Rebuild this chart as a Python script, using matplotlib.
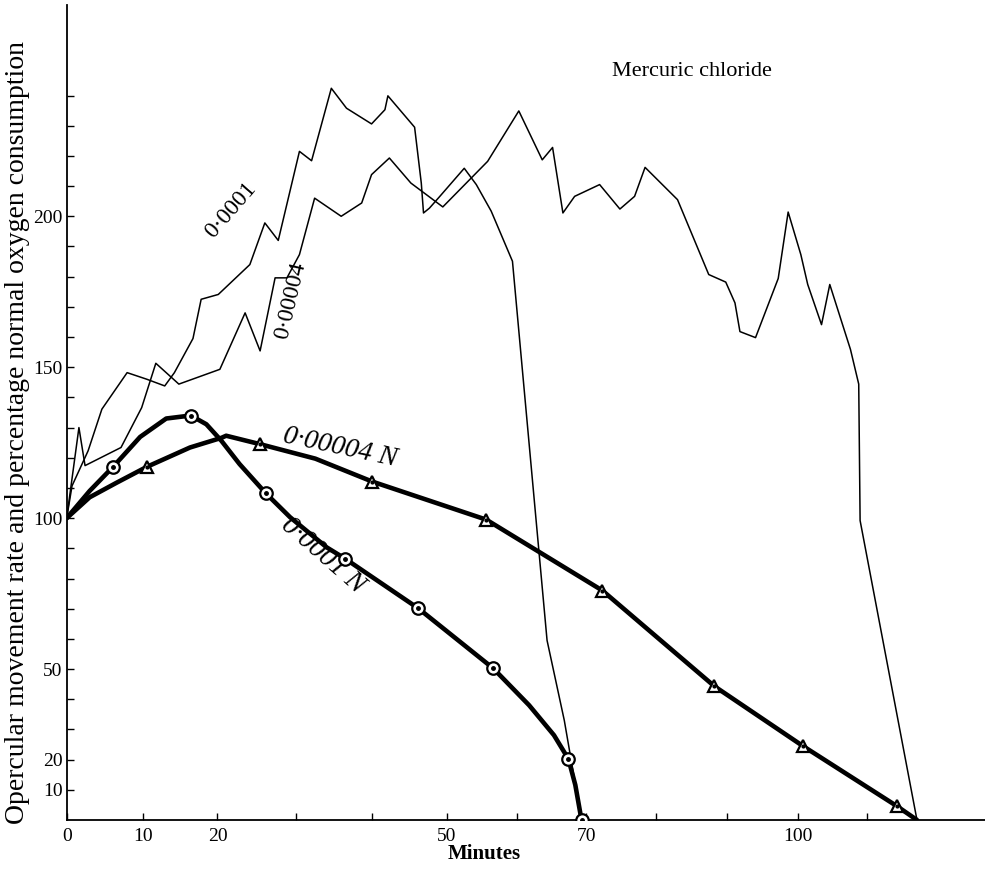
import numpy as np
import matplotlib
matplotlib.use('Agg')
from matplotlib import pyplot as plt

# opercular movement rate (thin lines), minutes / per cent of normal
rate_hi_min = [0, 0.7, 2.8, 4.6, 7.9, 10.5, 12.9, 14.2, 16.7, 17.8, 20.1, 24.1, 26.0, 27.7,
               30.4, 32.0, 34.6, 36.6, 39.9, 41.7, 42.1, 45.7, 46.6, 46.9, 47.7, 49.1,
               52.5, 53.0, 54.2, 56.3, 59.3, 64.3, 66.8, 69.3]
rate_hi_val = [100, 110.7, 122.3, 136.1, 148.2, 146.0, 143.8, 148.2, 159.5, 172.5, 174.1,
               184.0, 197.8, 192.0, 221.5, 218.4, 242.4, 235.8, 230.6, 235.3, 239.9, 229.5,
               211.0, 201.1, 202.7, 206.6, 215.9, 214.3, 210.5, 201.7, 185.1, 59.5, 33.0, 0]

rate_lo_min = [0, 1.6, 2.4, 7.1, 9.8, 11.7, 14.8, 20.3, 23.5, 25.4, 27.3, 28.8, 30.4, 32.4,
               35.9, 38.6, 39.9, 42.3, 45.2, 49.5, 55.8, 60.2, 63.6, 65.1, 66.6, 68.3, 71.9,
               74.8, 76.9, 78.4, 83.0, 87.4, 89.8, 91.1, 91.8, 94.0, 97.2, 98.6, 100.4,
               101.4, 103.4, 104.6, 107.6, 108.8, 109.0, 117.2]
rate_lo_val = [100, 130.0, 117.4, 123.4, 136.6, 151.3, 144.4, 149.3, 168.0, 155.4, 179.6,
               179.6, 187.3, 206.0, 200.0, 204.4, 213.8, 219.3, 211.0, 203.1, 218.2, 234.9,
               218.7, 222.8, 201.1, 206.6, 210.5, 202.4, 206.6, 216.2, 205.5, 180.7, 178.2,
               171.3, 161.8, 159.8, 179.4, 201.4, 187.3, 177.4, 164.1, 177.4, 155.9, 144.4,
               99.2, 0]

# oxygen consumption (thick lines): measured points
oxy_hi_min = [6.1, 16.4, 26.1, 36.4, 46.2, 56.6, 67.4, 69.3]
oxy_hi_val = [117.1, 134.0, 108.3, 86.6, 70.1, 50.2, 20.2, 0]
oxy_lo_min = [10.5, 25.4, 40.0, 55.6, 72.3, 88.2, 100.7, 114.3]
oxy_lo_val = [117.0, 124.5, 112.1, 99.5, 76.0, 44.3, 24.5, 4.6]

# the drawn smooth curves, traced
curve_hi_min = [0, 3.0, 6.1, 9.6, 13.1, 16.4, 18.5, 20.5, 22.8, 26.1, 29.2, 34.0, 36.4,
                46.2, 56.6, 61.7, 65.3, 67.4, 68.4, 69.3]
curve_hi_val = [100, 109.0, 117.1, 126.9, 133.0, 134.0, 131.1, 125.6, 117.9, 108.3, 100.3,
                90.3, 86.6, 70.1, 50.2, 38.0, 28.1, 20.2, 11.6, 0]
curve_lo_min = [0, 3.0, 6.5, 10.5, 16.3, 20.5, 21.1, 25.4, 32.5, 40.0, 55.6, 72.3, 88.2,
                100.7, 114.3, 117.2]
curve_lo_val = [100, 106.9, 111.7, 117.0, 123.4, 126.6, 127.3, 124.5, 119.7, 112.1, 99.5,
                76.0, 44.3, 24.5, 4.6, 0]

x_ticks = list(range(0, 120, 10))
x_labels = ['0', '10', '20', '', '', '50', '', '70', '', '', '100', '']
y_ticks = list(range(10, 250, 10))
y_labels = [str(v) if v in (10, 20, 50, 100, 150, 200) else '' for v in y_ticks]

# the printed time axis is not evenly spaced; follow its tick spacing
scan_min = [-10, 0, 10, 20, 30, 40, 50, 60, 70, 80, 90, 100, 110, 140]
scan_pos = [-76.6, 0, 76.6, 151, 230, 306, 380.3, 451.3, 520.3, 590.3, 661.3, 732.3,
            801.3, 1009.8]


def fwd(x):
    return np.interp(x, scan_min, scan_pos)


def inv(p):
    return np.interp(p, scan_pos, scan_min)


plt.rcParams['font.family'] = ['Liberation Serif', 'DejaVu Serif']

fig = plt.figure(figsize=(9.85, 8.74), dpi=100)
ax = fig.add_axes([0.0677, 0.0618, 0.9323, 0.9325])
ax.set_xscale('function', functions=(fwd, inv))

ax.plot(rate_hi_min, rate_hi_val, color='black', lw=1.1)
ax.plot(rate_lo_min, rate_lo_val, color='black', lw=1.1)

ax.plot(curve_hi_min, curve_hi_val, color='black', lw=3.3, solid_capstyle='round',
        solid_joinstyle='round')
ax.plot(curve_lo_min, curve_lo_val, color='black', lw=3.3, solid_capstyle='round',
        solid_joinstyle='round')

ax.plot(oxy_hi_min, oxy_hi_val, 'o', ms=9, mfc='white', mec='black', mew=1.6, zorder=5)
ax.plot(oxy_hi_min, oxy_hi_val, 'o', ms=2.5, color='black', zorder=6)
ax.plot(oxy_lo_min, oxy_lo_val, '^', ms=9, mfc='white', mec='black', mew=1.6, zorder=5)
ax.plot(oxy_lo_min, oxy_lo_val, 'o', ms=2.0, color='black', zorder=6)

ax.set_xlim(0, 127)
ax.set_ylim(0, 270)
ax.spines['top'].set_visible(False)
ax.spines['right'].set_visible(False)
ax.spines['left'].set_linewidth(1.3)
ax.spines['bottom'].set_linewidth(1.3)

ax.set_xticks(x_ticks, x_labels)
ax.set_yticks(y_ticks, y_labels)
ax.minorticks_off()
ax.tick_params(direction='in', length=5, width=1, labelsize=14)
ax.tick_params(axis='x', pad=6)
ax.tick_params(axis='y', pad=3)

ax.text(73.6, 248, 'Mercuric chloride', fontsize=16, ha='left', va='center')
ax.text(21.7, 202, '0·0001', fontsize=17, rotation=49, ha='center', va='center')
ax.text(29.3, 172, '0·00004', fontsize=17, rotation=77, ha='center', va='center')
ax.text(35.7, 123.3, '0·00004 N', fontsize=20, style='italic', rotation=-12,
        ha='center', va='center')
ax.text(33.4, 87.6, '0·0001 N', fontsize=20, style='italic', rotation=-41,
        ha='center', va='center')

fig.text(18 / 985, 0.505, 'Opercular movement rate and percentage normal oxygen consumption',
         rotation=90, fontsize=20, ha='center', va='center')
ax.set_xlabel('Minutes', fontsize=15, fontweight='bold', labelpad=1)
ax.xaxis.set_label_coords(0.455, -0.03)

fig.savefig('out.png', dpi=100)
